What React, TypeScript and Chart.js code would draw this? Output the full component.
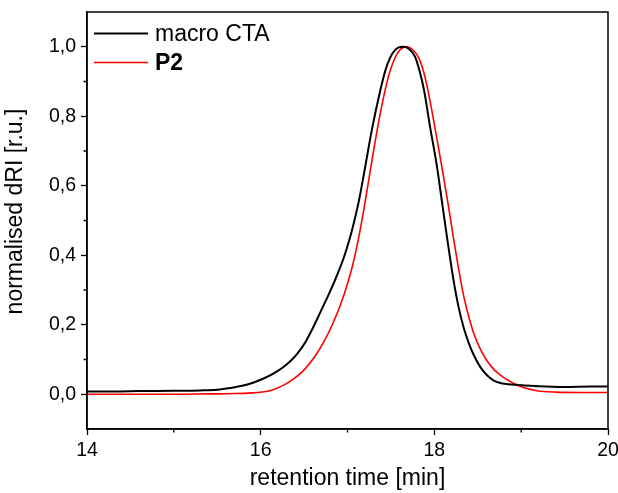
import React, { useEffect, useRef } from 'react';
import { Chart, registerables } from 'chart.js';

Chart.register(...registerables);

// ---- data ----
const seriesNames = ['macro CTA', 'P2'];
const seriesColors = ['#000000', '#ff0000'];

const macroTime = [
  14.0, 14.3, 14.6, 15.0, 15.3, 15.5, 15.65, 15.8, 15.92, 16.04, 16.15, 16.27, 16.35, 16.42,
  16.52, 16.61, 16.7, 16.8, 16.88, 16.96, 17.02, 17.07, 17.13, 17.19, 17.28, 17.38, 17.44,
  17.49, 17.54, 17.59, 17.64, 17.69, 17.74, 17.78, 17.83, 17.88, 17.95, 18.03, 18.09, 18.15,
  18.22, 18.28, 18.34, 18.4, 18.45, 18.53, 18.61, 18.68, 18.75, 18.85, 18.95, 19.2, 19.5,
  19.8, 20.0,
];
const macroValue = [
  0.008, 0.008, 0.009, 0.01, 0.011, 0.013, 0.018, 0.025, 0.034, 0.046, 0.06, 0.08, 0.097, 0.116,
  0.152, 0.195, 0.243, 0.296, 0.343, 0.395, 0.443, 0.49, 0.555, 0.635, 0.76, 0.877, 0.935,
  0.968, 0.988, 0.998, 1.0, 0.997, 0.986, 0.97, 0.93, 0.877, 0.771, 0.656, 0.55, 0.445,
  0.33, 0.25, 0.19, 0.145, 0.115, 0.078, 0.054, 0.04, 0.033, 0.029, 0.027, 0.023, 0.021,
  0.022, 0.022,
];

const p2Time = [
  14.0, 14.5, 15.0, 15.4, 15.7, 15.9, 16.04, 16.15, 16.27, 16.38, 16.5, 16.62, 16.73, 16.83,
  16.92, 17.0, 17.06, 17.12, 17.18, 17.24, 17.3, 17.36, 17.42, 17.48, 17.54, 17.6, 17.685,
  17.75, 17.82, 17.88, 17.93, 18.03, 18.1, 18.17, 18.22, 18.28, 18.34, 18.4, 18.45, 18.53,
  18.61, 18.7, 18.8, 18.9, 18.99, 19.18, 19.4, 19.7, 20.0,
];
const p2Value = [
  0.0, 0.0, 0.0, 0.001, 0.002, 0.004, 0.007, 0.014, 0.027, 0.044, 0.07, 0.107, 0.152, 0.203,
  0.258, 0.318, 0.372, 0.44, 0.52, 0.61, 0.7, 0.785, 0.86, 0.922, 0.964, 0.99, 1.0,
  0.992, 0.968, 0.925, 0.87, 0.735, 0.635, 0.53, 0.45, 0.36, 0.28, 0.22, 0.178, 0.13,
  0.095, 0.068, 0.048, 0.033, 0.022, 0.01, 0.006, 0.005, 0.005,
];

const xTicks = [14, 16, 18, 20];
const xTickLabels = ['14', '16', '18', '20'];
const xMinorTicks = [15, 17, 19];
const yTicks = [0, 0.2, 0.4, 0.6, 0.8, 1.0];
const yTickLabels = ['0,0', '0,2', '0,4', '0,6', '0,8', '1,0'];
const yMinorTicks = [0.1, 0.3, 0.5, 0.7, 0.9];

const xTitle = 'retention time [min]';
const yTitle = 'normalised dRI [r.u.]';

const FONT = "'Liberation Sans', Arial, Helvetica, sans-serif";

const framePlugin = {
  id: 'frameAndMinor',
  afterDraw(chart: any) {
    const { ctx, chartArea, scales } = chart;
    const { left, right, top, bottom } = chartArea;
    ctx.save();
    ctx.strokeStyle = '#000';
    ctx.lineWidth = 1.5;
    ctx.strokeRect(left, top, right - left, bottom - top);
    ctx.lineWidth = 1.3;
    ctx.beginPath();
    for (const v of yMinorTicks) {
      const py = scales.y.getPixelForValue(v);
      ctx.moveTo(left - 3.5, py);
      ctx.lineTo(left, py);
    }
    for (const v of xMinorTicks) {
      const px = scales.x.getPixelForValue(v);
      ctx.moveTo(px, bottom);
      ctx.lineTo(px, bottom + 3.5);
    }
    ctx.stroke();

    // y-axis title
    ctx.save();
    ctx.translate(16, 211.5);
    ctx.rotate(-Math.PI / 2);
    ctx.fillStyle = '#000';
    ctx.font = `23px ${FONT}`;
    ctx.textAlign = 'center';
    ctx.textBaseline = 'middle';
    ctx.fillText(yTitle, 0, 0);
    ctx.restore();

    // legend
    const lx0 = 94;
    const lx1 = 148;
    const rows = [33.5, 62.5];
    rows.forEach((yy, i) => {
      ctx.strokeStyle = seriesColors[i];
      ctx.lineWidth = i === 0 ? 2 : 1.6;
      ctx.beginPath();
      ctx.moveTo(lx0, yy);
      ctx.lineTo(lx1, yy);
      ctx.stroke();
      ctx.fillStyle = '#000';
      ctx.font = `${i === 1 ? 'bold ' : ''}23px ${FONT}`;
      ctx.textBaseline = 'middle';
      ctx.textAlign = 'left';
      ctx.fillText(seriesNames[i], 155, yy + 1);
    });
    ctx.restore();
  },
};

export default function App() {
  const ref = useRef<HTMLCanvasElement>(null);

  useEffect(() => {
    if (!ref.current) return;
    const chart = new Chart(ref.current, {
      type: 'line',
      data: {
        datasets: [
          {
            label: seriesNames[0],
            data: macroTime.map((t, i) => ({ x: t, y: macroValue[i] })),
            borderColor: seriesColors[0],
            borderWidth: 2,
            pointRadius: 0,
            cubicInterpolationMode: 'monotone',
            fill: false,
          },
          {
            label: seriesNames[1],
            data: p2Time.map((t, i) => ({ x: t, y: p2Value[i] })),
            borderColor: seriesColors[1],
            borderWidth: 1.6,
            pointRadius: 0,
            cubicInterpolationMode: 'monotone',
            fill: false,
          },
        ],
      },
      options: {
        animation: false,
        responsive: false,
        layout: { padding: { top: 12, right: 10, left: 0, bottom: 0 } },
        plugins: {
          legend: { display: false },
          tooltip: { enabled: false },
        },
        scales: {
          x: {
            type: 'linear',
            min: 14,
            max: 20,
            afterBuildTicks: (s: any) => {
              s.ticks = xTicks.map((v) => ({ value: v }));
            },
            afterFit: (s: any) => {
              s.height = 64;
              s.paddingLeft = 0;
              s.paddingRight = 0;
            },
            ticks: {
              autoSkip: false,
              maxRotation: 0,
              color: '#000',
              padding: 4,
              font: { family: FONT, size: 19.5 },
              callback: (_v: any, i: number) => xTickLabels[i],
            },
            grid: {
              drawOnChartArea: false,
              drawTicks: true,
              tickLength: 6,
              tickColor: '#000',
              tickWidth: 1.3,
            },
            border: { display: true, color: '#000', width: 1.5 },
            title: {
              display: true,
              text: xTitle,
              color: '#000',
              font: { family: FONT, size: 23 },
              padding: { top: 0, bottom: 1 },
            },
          },
          y: {
            type: 'linear',
            min: -0.1,
            max: 1.1,
            afterBuildTicks: (s: any) => {
              s.ticks = yTicks.map((v) => ({ value: v }));
            },
            afterFit: (s: any) => {
              s.width = 87;
              s.paddingTop = 0;
              s.paddingBottom = 0;
            },
            ticks: {
              autoSkip: false,
              color: '#000',
              padding: 5,
              font: { family: FONT, size: 19.5 },
              callback: (_v: any, i: number) => yTickLabels[i],
            },
            grid: {
              drawOnChartArea: false,
              drawTicks: true,
              tickLength: 6,
              tickColor: '#000',
              tickWidth: 1.3,
            },
            border: { display: true, color: '#000', width: 1.5 },
            title: { display: false },
          },
        },
      },
      plugins: [framePlugin],
    } as any);
    return () => chart.destroy();
  }, []);

  return (
    <div style={{ position: 'absolute', left: 0, top: 0, width: 618, height: 493, background: '#fff' }}>
      <canvas ref={ref} width={618} height={493} style={{ display: 'block' }} />
    </div>
  );
}
